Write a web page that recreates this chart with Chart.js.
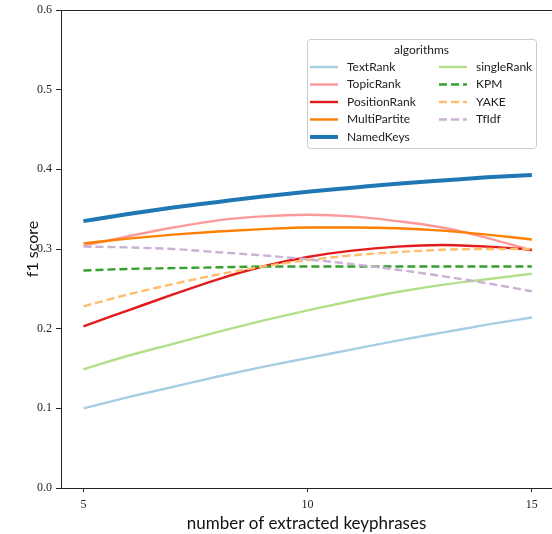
<!DOCTYPE html>
<html>
<head>
<meta charset="utf-8">
<script src="https://cdn.jsdelivr.net/npm/chart.js@4"></script>
<style>
  html, body { margin: 0; padding: 0; background: #fff; }
  #wrap { width: 552px; height: 534px; position: relative; }
</style>
</head>
<body>
<div id="wrap"><canvas id="chart"></canvas></div>
<script>
// x values: number of extracted keyphrases
const keyphrases = [5, 6, 7, 8, 9, 10, 11, 12, 13, 14, 15];

// f1 score per algorithm
const textRank     = [0.100, 0.114, 0.127, 0.140, 0.152, 0.163, 0.174, 0.185, 0.195, 0.205, 0.214];
const topicRank    = [0.304, 0.316, 0.327, 0.336, 0.341, 0.343, 0.341, 0.335, 0.327, 0.314, 0.298];
const positionRank = [0.203, 0.223, 0.243, 0.262, 0.278, 0.290, 0.298, 0.303, 0.305, 0.303, 0.299];
const multiPartite = [0.307, 0.313, 0.318, 0.322, 0.325, 0.327, 0.327, 0.326, 0.323, 0.318, 0.312];
const namedKeys    = [0.335, 0.344, 0.352, 0.359, 0.366, 0.372, 0.377, 0.382, 0.386, 0.390, 0.393];
const singleRank   = [0.149, 0.166, 0.181, 0.196, 0.210, 0.223, 0.235, 0.246, 0.255, 0.262, 0.269];
const kpm          = [0.273, 0.275, 0.276, 0.277, 0.278, 0.278, 0.278, 0.278, 0.278, 0.278, 0.278];
const yake         = [0.228, 0.243, 0.256, 0.268, 0.278, 0.286, 0.292, 0.296, 0.299, 0.300, 0.300];
const tfidf        = [0.303, 0.302, 0.300, 0.296, 0.292, 0.287, 0.281, 0.274, 0.266, 0.257, 0.247];

const xTicks = [5, 10, 15];
const yTicks = [0.0, 0.1, 0.2, 0.3, 0.4, 0.5, 0.6];

const pts = (ys) => keyphrases.map((x, i) => ({ x, y: ys[i] }));

function series(label, ys, color, opts = {}) {
  return {
    label,
    data: pts(ys),
    borderColor: color,
    backgroundColor: color,
    borderWidth: opts.width || 2.4,
    borderDash: opts.dash || [],
    pointRadius: 0,
    cubicInterpolationMode: "monotone",
    fill: false,
  };
}

const datasets = [
  series("TextRank", textRank, "#a6cee3"),
  series("TopicRank", topicRank, "#fb9a99"),
  series("PositionRank", positionRank, "#e31a1c"),
  series("MultiPartite", multiPartite, "#ff7f00"),
  series("NamedKeys", namedKeys, "#1f78b4", { width: 4 }),
  series("singleRank", singleRank, "#b2df8a"),
  series("KPM", kpm, "#33a02c", { dash: [8, 4] }),
  series("YAKE", yake, "#fdbf6f", { dash: [8, 4] }),
  series("TfIdf", tfidf, "#cab2d6", { dash: [8, 4] }),
];
// later series sit on top, like matplotlib
datasets.forEach((d, i) => (d.order = datasets.length - i));

const SANS = "Lato, 'DejaVu Sans', sans-serif";
const SERIF = "'Liberation Serif', 'DejaVu Serif', serif";

// legend in two columns (column-major), boxed, with a title
const boxLegend = {
  id: "boxLegend",
  afterDraw(chart) {
    const ctx = chart.ctx;
    const x0 = 307, y0 = 39, w = 229, h = 109;
    ctx.save();
    ctx.beginPath();
    ctx.roundRect(x0 + 0.5, y0 + 0.5, w, h, 3);
    ctx.fillStyle = "rgba(255,255,255,0.8)";
    ctx.fill();
    ctx.strokeStyle = "#cccccc";
    ctx.lineWidth = 1;
    ctx.stroke();

    ctx.fillStyle = "#222";
    ctx.font = "12px " + SANS;
    ctx.textAlign = "center";
    ctx.textBaseline = "middle";
    ctx.fillText("algorithms", x0 + w / 2, 50);

    ctx.textAlign = "left";
    const cols = [{ lx: 310, tx: 347 }, { lx: 439, tx: 476 }];
    const rowY = [67, 84.5, 102, 119.5, 137];
    chart.data.datasets.forEach((ds, i) => {
      const c = cols[i < 5 ? 0 : 1];
      const y = rowY[i < 5 ? i : i - 5];
      ctx.beginPath();
      ctx.setLineDash(ds.borderDash);
      ctx.lineWidth = ds.borderWidth;
      ctx.strokeStyle = ds.borderColor;
      ctx.moveTo(c.lx, y);
      ctx.lineTo(c.lx + 28, y);
      ctx.stroke();
      ctx.setLineDash([]);
      ctx.fillStyle = "#222";
      ctx.fillText(ds.label, c.tx, y);
    });
    ctx.restore();
  },
};

// top spine
const topSpine = {
  id: "topSpine",
  afterDraw(chart) {
    const { ctx, chartArea } = chart;
    ctx.save();
    ctx.strokeStyle = "#222";
    ctx.lineWidth = 1;
    ctx.beginPath();
    ctx.moveTo(chartArea.left, chartArea.top + 0.5);
    ctx.lineTo(chartArea.right, chartArea.top + 0.5);
    ctx.stroke();
    ctx.restore();
  },
};

new Chart(document.getElementById("chart"), {
  type: "line",
  data: { datasets },
  options: {
    responsive: true,
    maintainAspectRatio: false,
    animation: false,
    layout: { padding: { top: 9, right: 0, left: 0, bottom: 0 } },
    plugins: { legend: { display: false }, tooltip: { enabled: false } },
    scales: {
      x: {
        type: "linear",
        min: 4.5,
        max: 15.45,
        afterBuildTicks: (s) => (s.ticks = xTicks.map((v) => ({ value: v }))),
        afterFit: (s) => (s.height = 46),
        ticks: {
          color: "#222",
          font: { family: SERIF, size: 12 },
          padding: 6,
          maxRotation: 0,
        },
        grid: {
          display: true,
          drawOnChartArea: false,
          drawTicks: true,
          tickLength: 4,
          color: "#222",
        },
        border: { display: true, color: "#222", width: 1 },
        title: {
          display: true,
          text: "number of extracted keyphrases",
          color: "#111",
          font: { family: SANS, size: 17 },
          padding: { top: 0, bottom: 0 },
        },
      },
      y: {
        min: 0,
        max: 0.6,
        afterBuildTicks: (s) => (s.ticks = yTicks.map((v) => ({ value: v }))),
        afterFit: (s) => (s.width = 61),
        ticks: {
          color: "#222",
          font: { family: SERIF, size: 12, lineHeight: 1 },
          padding: 4,
          callback: (v) => v.toFixed(1),
        },
        grid: {
          display: true,
          drawOnChartArea: false,
          drawTicks: true,
          tickLength: 5,
          color: "#222",
        },
        border: { display: true, color: "#222", width: 1 },
        title: {
          display: true,
          text: "f1 score",
          color: "#111",
          font: { family: SANS, size: 16 },
          padding: { top: 23, bottom: 0 },
        },
      },
    },
  },
  plugins: [boxLegend, topSpine],
});
</script>
</body>
</html>
